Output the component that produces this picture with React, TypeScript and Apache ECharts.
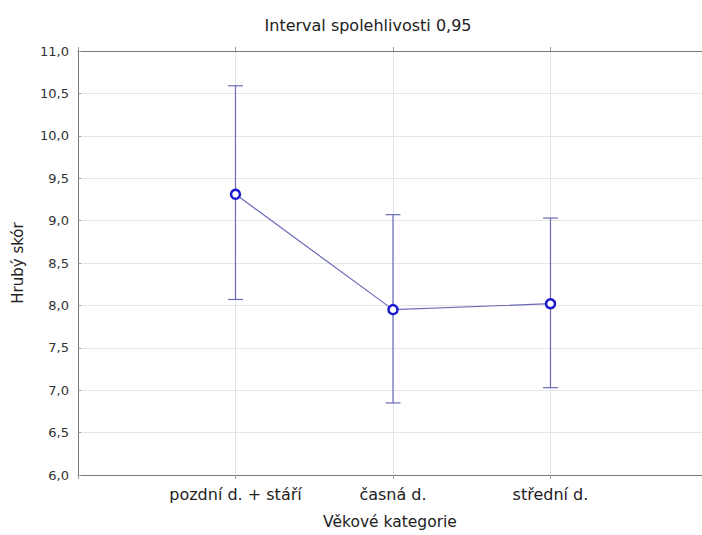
import React, { useEffect, useRef } from "react";
import * as echarts from "echarts";

const categories = ["pozdní d. + stáří", "časná d.", "střední d."];
const means = [9.31, 7.95, 8.02];
const upper = [10.59, 9.07, 9.03];
const lower = [8.07, 6.85, 7.03];

const FONT = "'DejaVu Sans', 'Liberation Sans', Arial, sans-serif";
const X_MAX = 3.962;

export default function App() {
  const ref = useRef<HTMLDivElement>(null);
  useEffect(() => {
    if (!ref.current) return;
    const chart = echarts.init(ref.current, null, { renderer: "svg" });
    const lineData = means.map((m, i) => [i + 1, m]);
    const errData = means.map((_, i) => [i + 1, lower[i], upper[i]]);
    chart.setOption({
      animation: false,
      backgroundColor: "#ffffff",
      title: {
        text: "Interval spolehlivosti 0,95",
        left: 363,
        top: 12,
        textAlign: "center",
        textStyle: { fontFamily: FONT, fontSize: 16, fontWeight: "normal", color: "#222" },
      },
      grid: { left: 78, top: 51, right: 0, bottom: 57, containLabel: false },
      xAxis: [
        {
          type: "value",
          min: 0,
          max: X_MAX,
          interval: 1,
          position: "bottom",
          name: "Věkové kategorie",
          nameLocation: "middle",
          nameGap: 39,
          nameTextStyle: { fontFamily: FONT, fontSize: 15.5, color: "#222" },
          axisLine: { show: true, lineStyle: { color: "#777", width: 1 } },
          axisTick: { show: true, length: 4, inside: false, lineStyle: { color: "#999" } },
          axisLabel: {
            fontFamily: FONT,
            fontSize: 16,
            color: "#222",
            margin: 11,
            showMaxLabel: false,
            formatter: (v: number) => (v >= 1 && v <= categories.length ? categories[v - 1] : ""),
          },
          splitLine: { show: true, lineStyle: { color: "#e2e2ee", width: 1 } },
        },
        {
          type: "value",
          min: 0,
          max: X_MAX,
          interval: 1,
          position: "top",
          axisLine: { show: true, lineStyle: { color: "#777", width: 1 } },
          axisTick: { show: true, length: 4, lineStyle: { color: "#999" } },
          axisLabel: { show: false },
          splitLine: { show: false },
        },
      ],
      yAxis: {
        type: "value",
        min: 6,
        max: 11,
        interval: 0.5,
        name: "Hrubý skór",
        nameLocation: "middle",
        nameGap: 53,
        nameTextStyle: { fontFamily: FONT, fontSize: 15, color: "#222" },
        axisLine: { show: true, lineStyle: { color: "#777", width: 1 } },
        axisTick: { show: true, length: 3, inside: true, lineStyle: { color: "#999" } },
        axisLabel: {
          fontFamily: FONT,
          fontSize: 13,
          color: "#333",
          margin: 9,
          formatter: (v: number) => v.toFixed(1).replace(".", ","),
        },
        splitLine: { show: true, lineStyle: { color: "#e6e6e6", width: 1 } },
      },
      series: [
        {
          type: "custom",
          xAxisIndex: 0,
          data: errData,
          z: 2,
          renderItem: (params: any, api: any) => {
            const x = api.value(0);
            const lo = api.coord([x, api.value(1)]);
            const hi = api.coord([x, api.value(2)]);
            const hw = 7.5;
            const style = { stroke: "#6a6ab8", lineWidth: 1.2 };
            return {
              type: "group",
              children: [
                { type: "line", shape: { x1: lo[0], y1: lo[1], x2: hi[0], y2: hi[1] }, style },
                { type: "line", shape: { x1: hi[0] - hw, y1: hi[1], x2: hi[0] + hw, y2: hi[1] }, style },
                { type: "line", shape: { x1: lo[0] - hw, y1: lo[1], x2: lo[0] + hw, y2: lo[1] }, style },
              ],
            };
          },
        },
        {
          type: "line",
          xAxisIndex: 0,
          data: lineData,
          z: 3,
          symbol: "circle",
          symbolSize: 9,
          lineStyle: { color: "#6a6ab8", width: 1.2 },
          itemStyle: { color: "#ffffff", borderColor: "#1a1ad0", borderWidth: 2.5 },
        },
      ],
    });
    return () => chart.dispose();
  }, []);
  return (
    <div
      ref={ref}
      style={{ position: "absolute", left: 0, top: 0, width: 702, height: 535 }}
    />
  );
}
